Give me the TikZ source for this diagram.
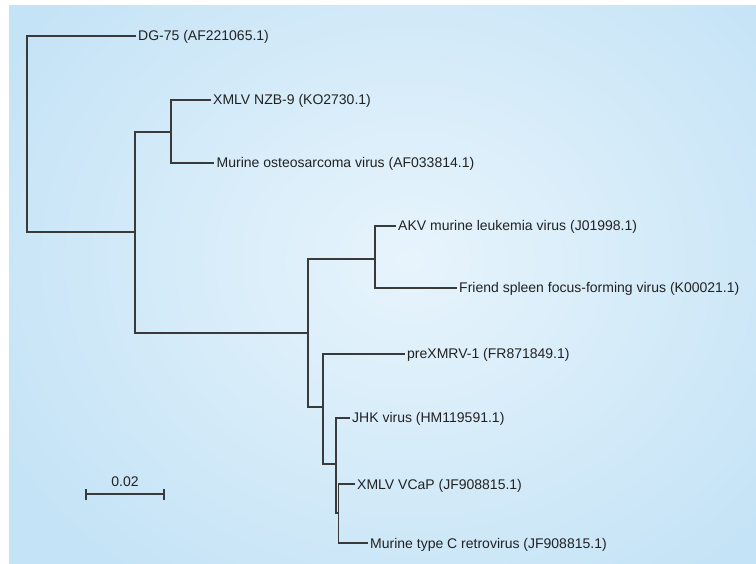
\documentclass[tikz,border=0pt]{standalone}
\usepackage{fontspec}
\setmainfont{Liberation Sans}
\definecolor{bgin}{HTML}{E7F4FC}
\definecolor{bgout}{HTML}{C4E3F6}
\definecolor{ink}{HTML}{3A3A3A}
\definecolor{txt}{HTML}{222222}
\tikzset{
  branch/.style={draw=ink, line width=1.1pt},
  leaf/.style={anchor=west, inner xsep=2.5pt, inner ysep=0pt, text height=10pt, text depth=0pt,
    font=\fontsize{14}{16}\selectfont, text=txt},
  scalelbl/.style={inner sep=0pt, font=\fontsize{14}{16}\selectfont, text=txt}
}
\begin{document}
\begin{tikzpicture}[x=1pt,y=-1pt]
\useasboundingbox (0,0) rectangle (756,564);
\fill[white] (0,0) rectangle (756,564);
\begin{scope}
  \clip (9,6) rectangle (756,564);
  \shade[inner color=bgin, outer color=bgout] (-60,-140) rectangle (880,660);
\end{scope}

% internal nodes
\coordinate (r)  at (27,134);
\coordinate (n1) at (135,232);
\coordinate (n2) at (171,132);
\coordinate (n3) at (308,333);
\coordinate (n4) at (375,259);
\coordinate (n5) at (323,407);
\coordinate (n6) at (336,464);
\coordinate (n7) at (338.5,513);

% leaves
\node[leaf] (dg)   at (135.5,36)  {DG-75 (AF221065.1)};
\node[leaf] (nzb)  at (210.5,100) {XMLV NZB-9 (KO2730.1)};
\node[leaf] (mos)  at (214,163)   {Murine osteosarcoma virus (AF033814.1)};
\node[leaf] (akv)  at (395.5,226) {AKV murine leukemia virus (J01998.1)};
\node[leaf] (fsf)  at (456.5,288) {Friend spleen focus-forming virus (K00021.1)};
\node[leaf] (prex) at (404.5,354) {preXMRV-1 (FR871849.1)};
\node[leaf] (jhk)  at (349.5,418) {JHK virus (HM119591.1)};
\node[leaf] (vcap) at (354.5,484) {XMLV VCaP (JF908815.1)};
\node[leaf] (mtc)  at (367.5,543) {Murine type C retrovirus (JF908815.1)};

% branches
\draw[branch] (r) |- (dg.west);
\draw[branch] (r) |- (n1);
\draw[branch] (n1) |- (n2);
\draw[branch] (n1) |- (n3);
\draw[branch] (n2) |- (nzb.west);
\draw[branch] (n2) |- (mos.west);
\draw[branch] (n3) |- (n4);
\draw[branch] (n3) |- (n5);
\draw[branch] (n4) |- (akv.west);
\draw[branch] (n4) |- (fsf.west);
\draw[branch] (n5) |- (prex.west);
\draw[branch] (n5) |- (n6);
\draw[branch] (n6) |- (jhk.west);
\draw[branch] (n6) |- (n7);
\draw[branch] (n7) |- (vcap.west);
\draw[branch] (n7) |- (mtc.west);

% scale bar
\coordinate (sbL) at (86,494);
\coordinate (sbR) at (164,494);
\draw[branch] (sbL) -- (sbR);
\draw[branch] ([yshift=-5.5pt]sbL) -- ([yshift=5.5pt]sbL);
\draw[branch] ([yshift=-5.5pt]sbR) -- ([yshift=5.5pt]sbR);
\node[scalelbl] (sblbl) at (125,482) {0.02};
\end{tikzpicture}
\end{document}
